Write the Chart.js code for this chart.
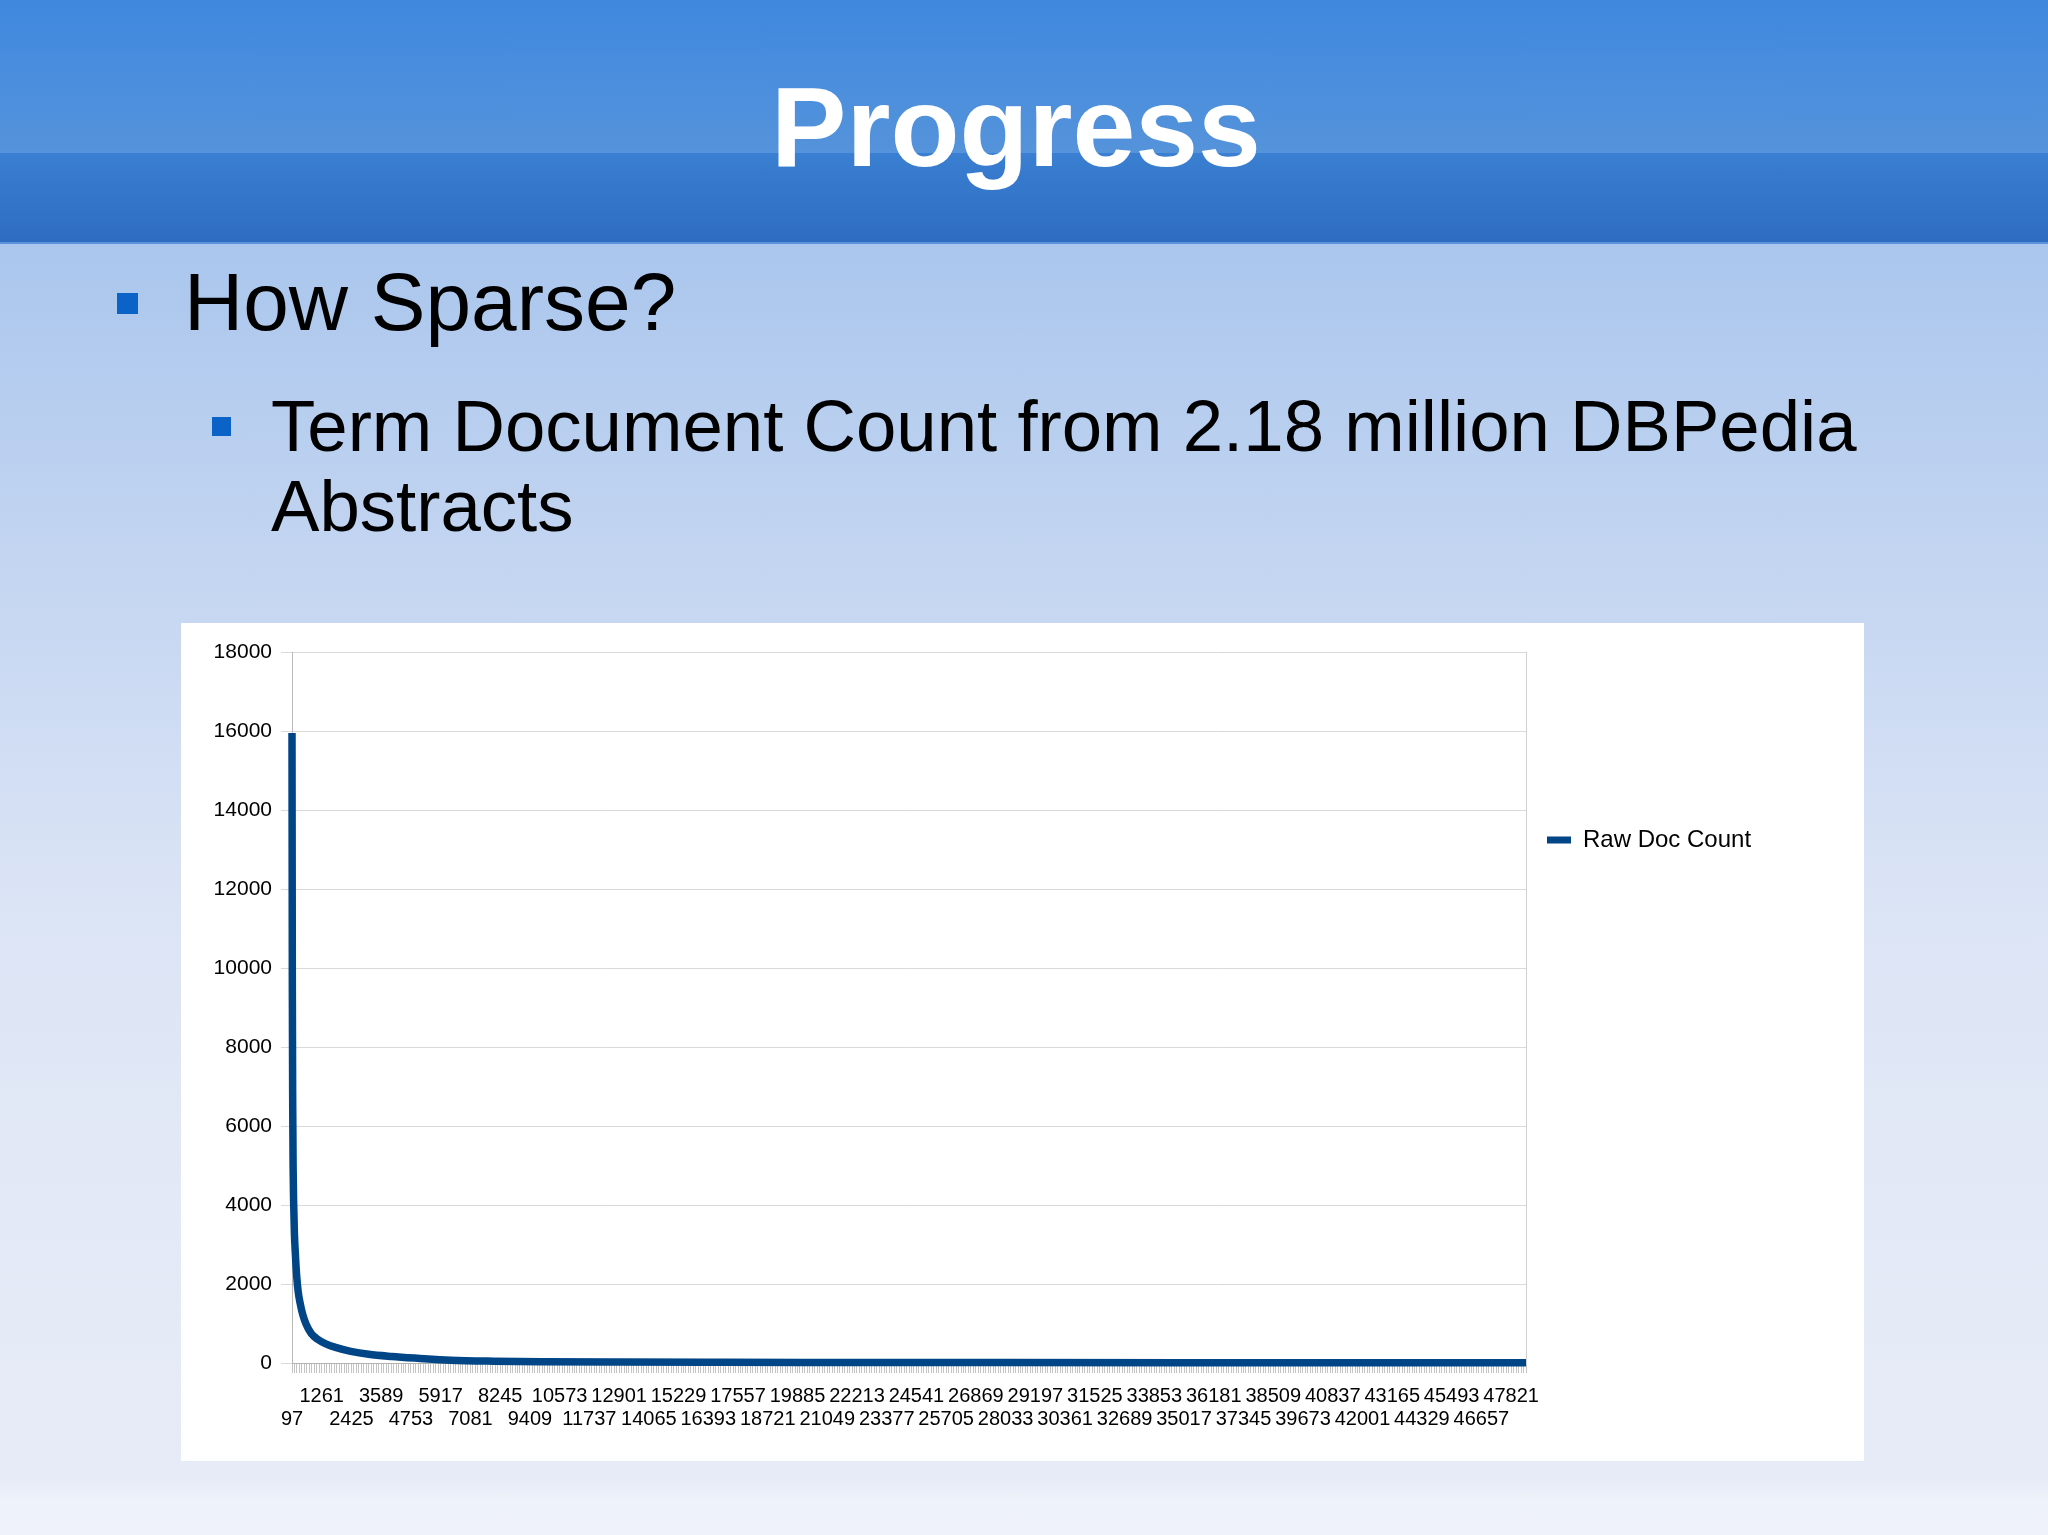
<!DOCTYPE html>
<html>
<head>
<meta charset="utf-8">
<script src="https://cdn.jsdelivr.net/npm/chart.js@4.4.1/dist/chart.umd.min.js"></script>
<style>
  html, body { margin: 0; padding: 0; }
  body { width: 2048px; height: 1535px; overflow: hidden; position: relative;
         font-family: "Liberation Sans", Arial, sans-serif;
         background: linear-gradient(to bottom, #aac6ed 243px, #c3d5f1 560px, #dbe4f5 900px, #e3e9f6 1200px, #e7ebf7 1480px, #eef2fa 1500px, #eff2fa 1535px); }
  .hdr1 { position: absolute; left: 0; top: 0; width: 2048px; height: 153px;
          background: linear-gradient(to bottom, #3f88de, #4c8fdd 60%, #5593da); }
  .hdr2 { position: absolute; left: 0; top: 153px; width: 2048px; height: 89px;
          background: linear-gradient(to bottom, #3a7fd1, #2e6cc2); }
  .hdrline { position: absolute; left: 0; top: 242px; width: 2048px; height: 2px; background: #5a93dc; }
  .title { position: absolute; left: 0; top: 71px; width: 2032px; text-align: center;
           font-size: 113px; line-height: 113px; font-weight: bold; color: #fff; margin: 0; }
  .sq { position: absolute; background: #0b63c8; }
  .b1 { position: absolute; left: 184px; top: 261px; font-size: 82px; line-height: 82px; color: #000; white-space: nowrap; }
  .b2 { position: absolute; left: 271px; top: 386px; font-size: 72.6px; line-height: 80px; color: #000; white-space: nowrap; }
  #box { position: absolute; left: 181px; top: 623px; width: 1683px; height: 838px; background: #fff; }
</style>
</head>
<body>
<div class="hdr1"></div>
<div class="hdr2"></div>
<div class="hdrline"></div>
<h1 class="title">Progress</h1>
<div class="sq" style="left:117px;top:293px;width:21px;height:21px"></div>
<div class="b1">How Sparse?</div>
<div class="sq" style="left:212px;top:417px;width:19px;height:19px"></div>
<div class="b2">Term Document Count from 2.18 million DBPedia<br>Abstracts</div>
<div id="box"><canvas id="chart" width="1683" height="838"></canvas></div>

<script>
// x position of each sample (category value) and the doc count
const rankX = [97, 110, 125, 140, 160, 190, 230, 280, 340, 420, 520, 650, 850, 1100, 1400,
               1800, 2400, 3100, 4000, 5000, 6300, 8000, 10000, 13000, 17000, 22000, 28000,
               35000, 42000, 48403];
const docCount = [15950, 9500, 6500, 5000, 4100, 3300, 2750, 2200, 1800, 1500, 1220, 980, 745,
                  600, 490, 395, 295, 220, 165, 120, 70, 45, 32, 24, 18, 14, 11, 8, 6, 5];

// category labels printed under the axis
const xTickLabels = [97, 1261, 2425, 3589, 4753, 5917, 7081, 8245, 9409, 10573, 11737, 12901,
                     14065, 15229, 16393, 17557, 18721, 19885, 21049, 22213, 23377, 24541, 25705,
                     26869, 28033, 29197, 30361, 31525, 32689, 33853, 35017, 36181, 37345, 38509,
                     39673, 40837, 42001, 43165, 44329, 45493, 46657, 47821];
const yTicks = [0, 2000, 4000, 6000, 8000, 10000, 12000, 14000, 16000, 18000];

const seriesName = 'Raw Doc Count';
const seriesColor = '#004586';

Chart.defaults.font.family = '"Liberation Sans", Arial, sans-serif';
Chart.defaults.color = '#000';

// put the legend item level with the reference instead of at the top of its box
const legendPlacer = {
    id: 'legendPlacer',
    beforeDraw(chart) {
        chart.legend.top = 184;
        chart.legend.right = chart.width;
    }
};

const ctx = document.getElementById('chart').getContext('2d');
new Chart(ctx, {
    type: 'line',
    data: {
        datasets: [{
            label: seriesName,
            data: rankX.map((x, i) => ({ x: x, y: docCount[i] })),
            borderColor: seriesColor,
            backgroundColor: seriesColor,
            borderWidth: 7.5,
            pointRadius: 0,
            cubicInterpolationMode: 'monotone',
            clip: false
        }]
    },
    options: {
        responsive: false,
        animation: false,
        devicePixelRatio: 1,
        layout: { padding: { left: 0, top: 29, right: 138, bottom: 0 } },
        plugins: {
            tooltip: { enabled: false },
            legend: {
                position: 'right',
                align: 'start',
                maxWidth: 200,
                labels: {
                    boxWidth: 24,
                    boxHeight: 7,
                    padding: 21,
                    font: { size: 24 },
                    color: '#000',
                    generateLabels: (chart) => Chart.defaults.plugins.legend.labels.generateLabels(chart)
                        .map(l => Object.assign(l, { lineWidth: 0, fillStyle: seriesColor }))
                }
            }
        },
        scales: {
            x: {
                type: 'linear',
                min: 97,
                max: 48403,
                grid: { display: true, drawOnChartArea: false, drawTicks: true, tickLength: 10, color: '#c4c4c4' },
                border: { display: true, color: '#b3b3b3' },
                ticks: {
                    stepSize: 97,
                    autoSkip: false,
                    maxRotation: 0,
                    minRotation: 0,
                    padding: 12,
                    font: { size: 20, lineHeight: 1.15 },
                    color: '#000',
                    callback: function (value) {
                        const k = xTickLabels.indexOf(value);
                        if (k < 0) return '';
                        return k % 2 === 0 ? ['', String(value)] : [String(value), ''];
                    }
                },
                afterFit: (scale) => { scale.height = 98; }
            },
            y: {
                min: 0,
                max: 18000,
                afterBuildTicks: (scale) => { scale.ticks = yTicks.map(v => ({ value: v })); },
                grid: { color: '#d9d9d9', tickLength: 11 },
                border: { display: true, color: '#b8b8b8' },
                ticks: { padding: 9, font: { size: 21 }, color: '#000', callback: (v) => String(v) },
                afterFit: (scale) => { scale.width = 111; }
            },
            y2: {
                position: 'right',
                min: 0,
                max: 18000,
                grid: { display: false, drawTicks: false },
                ticks: { display: false },
                border: { display: true, color: '#d0d0d0' },
                afterFit: (scale) => { scale.width = 0; }
            }
        }
    },
    plugins: [legendPlacer]
});
</script>
</body>
</html>
